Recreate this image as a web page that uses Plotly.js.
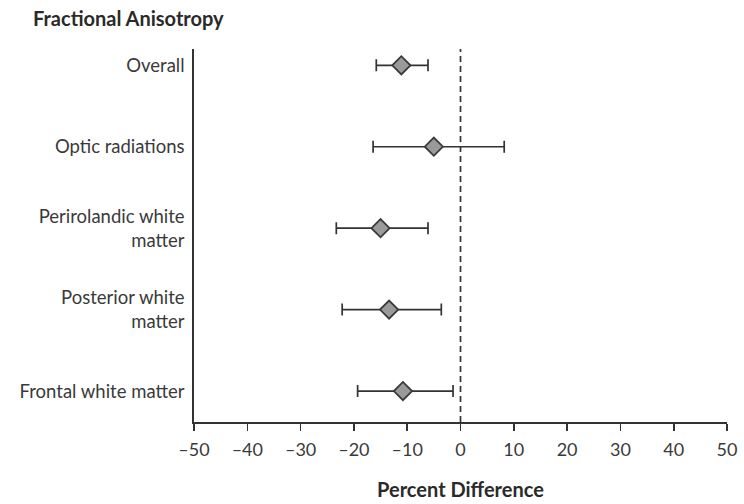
<!DOCTYPE html>
<html>
<head>
<meta charset="utf-8">
<script src="https://cdn.plot.ly/plotly-3.0.1.min.js"></script>
<style>html,body{margin:0;padding:0;background:#fff;}#chart{width:744px;height:504px;}</style>
</head>
<body>
<div id="chart"></div>
<script>
const categories = ["Overall", "Optic radiations", "Perirolandic white<br>matter", "Posterior white<br>matter", "Frontal white matter"];
const meanDiff = [-11.1, -5.0, -15.0, -13.4, -10.8];
const lowerCI = [-15.8, -16.4, -23.3, -22.2, -19.3];
const upperCI = [-6.1, 8.2, -6.1, -3.6, -1.4];
const xTickVals = [-50, -40, -30, -20, -10, 0, 10, 20, 30, 40, 50];
const xTickText = ["–50", "–40", "–30", "–20", "–10", "0", "10", "20", "30", "40", "50"];

const yPos = categories.map((c, i) => i);
const font = "Lato, 'Open Sans', sans-serif";

const trace = {
  type: "scatter",
  mode: "markers",
  x: meanDiff,
  y: yPos,
  marker: {symbol: "diamond", size: 14, color: "#9a9a9a", line: {color: "#3a3a3a", width: 1.8}},
  error_x: {
    type: "data", symmetric: false,
    array: upperCI.map((u, i) => u - meanDiff[i]),
    arrayminus: meanDiff.map((m, i) => m - lowerCI[i]),
    color: "#333", thickness: 1.7, width: 6
  },
  hoverinfo: "skip",
  showlegend: false
};

const layout = {
  width: 744, height: 504,
  margin: {l: 194, r: 17, t: 49, b: 82},
  paper_bgcolor: "#fff", plot_bgcolor: "#fff",
  font: {family: font, color: "#3a3a3a", size: 19},
  title: {text: "<b>Fractional Anisotropy</b>", x: 33 / 744, xref: "container", xanchor: "left",
          y: 0.963, yanchor: "middle",
          font: {family: font, size: 20, color: "#2a2a2a"}},
  xaxis: {
    range: [-50, 50], tickvals: xTickVals, ticktext: xTickText,
    showgrid: false, zeroline: false, showline: true, linecolor: "#333", linewidth: 1.7,
    ticks: "outside", ticklen: 7, tickwidth: 1.6, tickcolor: "#333", ticklabelstandoff: 4,
    tickfont: {family: font, size: 18, color: "#3a3a3a"},
    title: {text: "<b>Percent Difference</b>", font: {family: font, size: 20, color: "#2a2a2a"}, standoff: 24}
  },
  yaxis: {
    range: [4.38, -0.2], tickvals: yPos, ticktext: categories,
    showgrid: false, zeroline: false, showline: true, linecolor: "#333", linewidth: 1.7,
    ticks: "", ticklabelstandoff: 4,
    tickfont: {family: font, size: 18.5, color: "#3a3a3a"}
  },
  shapes: [{
    type: "line", xref: "x", yref: "paper", x0: 0, x1: 0, y0: 0, y1: 1,
    line: {color: "#333", width: 1.7, dash: "6px,4px"}, layer: "below"
  }]
};

Plotly.newPlot("chart", [trace], layout, {displayModeBar: false, staticPlot: true});
</script>
</body>
</html>
